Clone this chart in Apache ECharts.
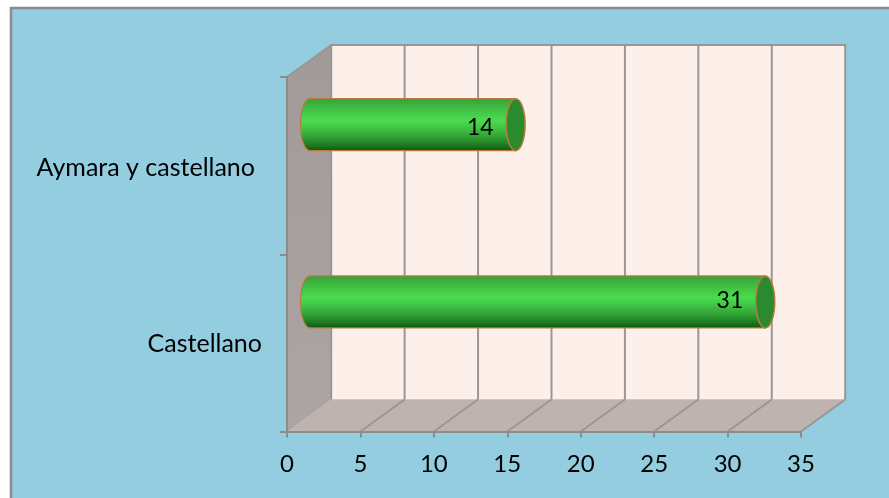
<!DOCTYPE html>
<html><head><meta charset="utf-8">
<style>html,body{margin:0;padding:0;background:#fff}#c{width:889px;height:498px}</style>
<script src="https://cdn.jsdelivr.net/npm/echarts@6/dist/echarts.min.js"></script>
</head><body><div id="c"></div>
<script>
const categories = ['Castellano', 'Aymara y castellano'];
const values = [31, 14];
const axisMin = 0, axisMax = 35, axisStep = 5;

// depth of the 3D box and of the bars, in pixels
const BOX_DX = 44.2, BOX_DY = -32, BAR_DX = 23, BAR_DY = -41;
const BAR_RX = 9.5, BAR_RY = 26;
const FONT = 'Lato, Carlito, "Open Sans", sans-serif';
const GRID = '#989796', EDGE = '#B87C3C';

const chart = echarts.init(document.getElementById('c'), null, {renderer: 'canvas'});

function renderBox(params, api) {
  const g = params.coordSys;
  const l = g.x, t = g.y, r = g.x + g.width, b = g.y + g.height;
  const line = (x1, y1, x2, y2) => ({type: 'line', shape: {x1, y1, x2, y2}, style: {stroke: GRID, lineWidth: 2}});
  const children = [
    {type: 'polygon', shape: {points: [[l + BOX_DX, t + BOX_DY], [r + BOX_DX, t + BOX_DY], [r + BOX_DX, b + BOX_DY], [l + BOX_DX, b + BOX_DY]]}, style: {fill: '#FDF0EA'}},
    {type: 'polygon', shape: {points: [[l, t], [l + BOX_DX, t + BOX_DY], [l + BOX_DX, b + BOX_DY], [l, b]]},
      style: {fill: new echarts.graphic.LinearGradient(0, 0, 1, 1, [{offset: 0, color: '#A19A99'}, {offset: 1, color: '#ADA5A4'}])}},
    {type: 'polygon', shape: {points: [[l, b], [l + BOX_DX, b + BOX_DY], [r + BOX_DX, b + BOX_DY], [r, b]]}, style: {fill: '#BFB3AF'}}
  ];
  for (let v = axisMin; v <= axisMax; v += axisStep) {
    const x = api.coord([v, 0])[0];
    if (v > axisMin) children.push(line(x, b, x + BOX_DX, b + BOX_DY));
    children.push(line(x + BOX_DX, t + BOX_DY, x + BOX_DX, b + BOX_DY));
  }
  children.push(line(l + BOX_DX - 1, t + BOX_DY, r + BOX_DX + 1, t + BOX_DY));
  children.push(line(l, t, l + BOX_DX, t + BOX_DY));
  return {type: 'group', children};
}

function renderBar(params, api) {
  const v = api.value(0), idx = api.value(1), p0 = api.coord([0, idx]), p1 = api.coord([v, idx]);
  const x0 = p0[0] + BAR_DX, x1 = p1[0] + BAR_DX, cy = p0[1] + BAR_DY;
  const top = cy - BAR_RY, bot = cy + BAR_RY;
  const body = `M${x0} ${top} L${x1} ${top} L${x1} ${bot} L${x0} ${bot} A${BAR_RX} ${BAR_RY} 0 0 1 ${x0} ${top} Z`;
  return {type: 'group', children: [
    {type: 'path', shape: {pathData: body, x: x0 - BAR_RX, y: top, width: x1 - x0 + BAR_RX, height: bot - top, layout: 'center'}, style: {
      fill: new echarts.graphic.LinearGradient(0, 0, 0, 1, [
        {offset: 0, color: '#35A038'}, {offset: 0.2, color: '#40BE43'}, {offset: 0.42, color: '#4BDB4E'},
        {offset: 0.55, color: '#43C747'}, {offset: 0.75, color: '#2F9E33'}, {offset: 0.9, color: '#1C7520'}, {offset: 1, color: '#0E520F'}]),
      stroke: EDGE, lineWidth: 1.2}},
    {type: 'ellipse', shape: {cx: x1, cy, rx: BAR_RX, ry: BAR_RY}, style: {fill: '#2A8A2E', stroke: EDGE, lineWidth: 1.5}},
    {type: 'text', style: {x: x1 - 22, y: cy + (idx === 1 ? 3 : -1), text: String(v), fill: '#000', font: '23px ' + FONT, align: 'right', verticalAlign: 'middle'}}
  ]};
}

chart.setOption({
  animation: false,
  backgroundColor: '#fff',
  graphic: [{type: 'rect', silent: true, z: -10, shape: {x: 11, y: 8, width: 900, height: 520},
    style: {fill: '#93CDDF', stroke: '#8C8C8C', lineWidth: 2.5}}],
  grid: {left: 287, right: 88, top: 77, bottom: 66.5},
  xAxis: {type: 'value', min: axisMin, max: axisMax, interval: axisStep, z: 6,
    splitLine: {show: false},
    axisLine: {show: true, lineStyle: {color: '#8C8C8C', width: 2}},
    axisTick: {show: true, length: 6, lineStyle: {color: '#8C8C8C', width: 2}},
    axisLabel: {color: '#000', fontFamily: FONT, fontSize: 24, margin: 21}},
  yAxis: {type: 'category', data: categories, z: 6,
    axisLine: {show: true, lineStyle: {color: '#8C8C8C', width: 2}},
    axisTick: {show: true, length: 7, alignWithLabel: false, lineStyle: {color: '#8C8C8C', width: 2}},
    axisLabel: {color: '#000', fontFamily: FONT, fontSize: 25, margin: 25,
      formatter: (s, i) => i === 0 ? `{a|${s}}` : `{b|${s}}`,
      rich: {a: {fontFamily: FONT, fontSize: 25, color: '#000', padding: [2, 0, 0, 0]},
             b: {fontFamily: FONT, fontSize: 25, color: '#000', padding: [4, 7, 0, 0]}}}},
  series: [
    {type: 'custom', z: 2, clip: false, silent: true, renderItem: renderBox, data: [[axisMin, 0]], encode: {x: 0, y: 1}},
    {type: 'custom', z: 3, clip: false, silent: true, renderItem: renderBar,
      data: values.map((v, i) => [v, i]), encode: {x: 0, y: 1}}
  ]
});
</script></body></html>
